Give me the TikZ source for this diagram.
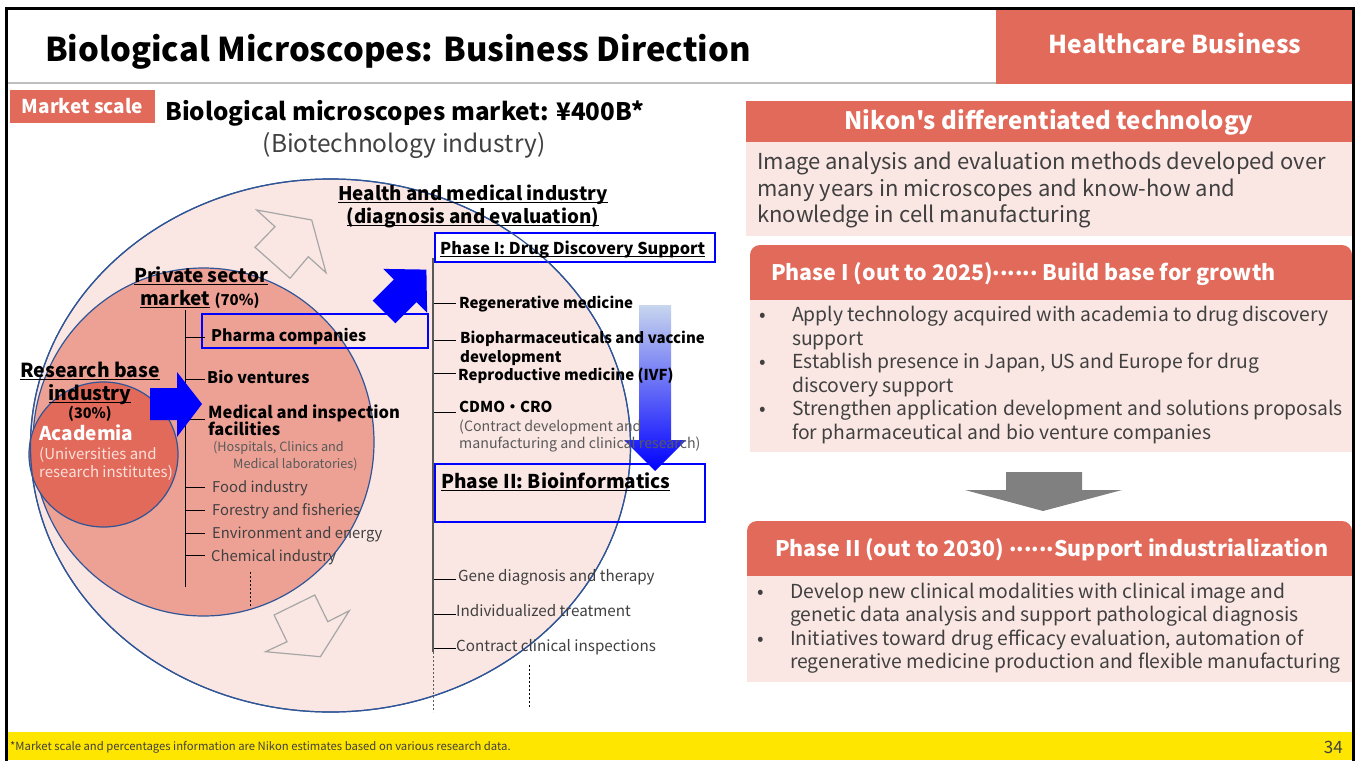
\documentclass[tikz,border=0pt]{standalone}
\usepackage{fontspec}
\setmainfont{Noto Sans CJK JP}[Ligatures=TeXOff]
\usetikzlibrary{shapes.geometric}

\definecolor{salmon}{RGB}{225,106,91}
\definecolor{blush}{RGB}{250,231,227}
\definecolor{rosy}{RGB}{237,161,149}
\definecolor{ringblue}{RGB}{47,85,151}
\definecolor{pureblue}{RGB}{0,0,255}
\definecolor{paleblue}{RGB}{200,214,238}
\definecolor{midblue}{RGB}{140,160,240}
\definecolor{inkgray}{RGB}{64,64,64}
\definecolor{softgray}{RGB}{89,89,89}
\definecolor{footyellow}{RGB}{255,230,0}
\definecolor{rulegray}{RGB}{191,191,191}
\definecolor{arrowgray}{RGB}{128,128,128}
\definecolor{outlinegray}{RGB}{166,166,166}
\definecolor{palewhite}{RGB}{252,224,218}

\newcommand\fsz[2]{\fontsize{#1}{#2}\selectfont}
% underline sitting just under the baseline
\newcommand\ulx[1]{{\setbox0\hbox{#1}\rlap{\rule[-0.16em]{\wd0}{0.055em}}\box0}}
% six mid-height dots
\newcommand\dotrun{\raisebox{0.24em}{......}}

\tikzset{
  lab/.style={anchor=base west, inner sep=0pt},
  clab/.style={anchor=base, inner sep=0pt},
  bar/.style={draw=black, line width=1pt},
  midbar/.style={draw=softgray, line width=1.2pt},
  itemb/.style={lab, font=\fsz{15}{18}\bfseries, text=black},
  itemr/.style={lab, font=\fsz{14.8}{18}, text=inkgray},
  note/.style={lab, font=\fsz{14.2}{16}, text=softgray},
  bodytext/.style={lab, font=\fsz{22}{26}, text=inkgray},
  bullettext/.style={lab, font=\fsz{19.3}{22}, text=inkgray},
  headtext/.style={lab, font=\fsz{21.4}{25}\bfseries, text=white},
  ring/.style={ellipse, draw=ringblue, line width=1.2pt, inner sep=0pt},
  bluebox/.style={draw=pureblue, line width=2pt},
  hollow/.style={draw=outlinegray, line width=1.2pt, line join=miter},
}

\begin{document}
\begin{tikzpicture}[x=1pt,y=-1pt]
\useasboundingbox (0,0) rectangle (1359,760);
\fill[white] (0,0) rectangle (1359,760);

% ---------- header ----------
\node[lab, font=\fsz{32.8}{38}\bfseries] (title) at (45,61.5) {Biological Microscopes: Business Direction};
\draw[rulegray, line width=2pt] (8,83) -- (996,83);
\fill[salmon] (996,9) rectangle (1352,84);
\node[clab, font=\fsz{24.6}{28}\bfseries, text=white] (unit) at (1175,53.5) {Healthcare Business};

% ---------- market scale ----------
\fill[salmon] (10,90) rectangle (155,123);
\node[clab, font=\fsz{19}{22}\bfseries, text=white] (mscale) at (82.5,113) {Market scale};
\node[lab, font=\fsz{24.2}{27}\bfseries] (market) at (165,120.5) {Biological microscopes market: ¥400B*};
\node[clab, font=\fsz{24.5}{28}, text=inkgray] (biotech) at (404,152) {(Biotechnology industry)};

% ---------- market circles ----------
\node[ring, fill=blush, minimum width=600pt, minimum height=533pt] (outer) at (330.5,445.5) {};
\node[ring, fill=rosy, minimum width=341pt, minimum height=348pt] (inner) at (203.5,442) {};
\node[ring, fill=salmon, minimum width=149pt, minimum height=145pt] (acad) at (103.5,454.5) {};

% hollow growth arrows
\draw[hollow] (256.7,210) -- (311.7,220) -- (326,272.7) -- (308.3,256.7) -- (290,278.3) -- (255,247.3) -- (275,226.7) -- cycle;
\draw[hollow] (314.8,595) -- (327.8,621.7) -- (349.3,610.7) -- (320.4,656.7) -- (265.6,651.7) -- (287,641.7) -- (274.1,615) -- cycle;

% phase boxes
\filldraw[bluebox, fill=white] (435,233) rectangle (715,262);
\node[ring, minimum width=600pt, minimum height=533pt] (outerline) at (330.5,445.5) {};
\draw[bluebox] (435,464) rectangle (705,522);
\draw[bluebox] (202,314) rectangle (428,348);

% shift from phase I to phase II (under the labels)
\shade[top color=paleblue, middle color=midblue, bottom color=pureblue] (639,305) -- (671,305) -- (671,440) -- (686,440) -- (655,471) -- (624,440) -- (639,440) -- cycle;

% ---------- health and medical column ----------
\node[clab, font=\fsz{18.8}{22}\bfseries] (health1) at (473,200) {\ulx{Health and medical industry}};
\node[clab, font=\fsz{18.8}{22}\bfseries] (health2) at (473,223) {\ulx{(diagnosis and evaluation)}};
\node[lab, font=\fsz{16.3}{20}\bfseries] (phase1) at (440,254) {\ulx{Phase I: Drug Discovery Support}};

\coordinate (mtop) at (433,258);
\coordinate (mend) at (433,652);
\coordinate (mdot) at (433,712);
\draw[midbar] (mtop) -- (mend);
\draw[midbar, line width=1pt, dash pattern=on 2pt off 2pt] (mend) -- (mdot);
\foreach \yy in {303,340,373,412,579,614,648} \draw[bar] (434,\yy) -- (456,\yy);

\node[itemb] (regen) at (459,308.5) {Regenerative medicine};
\node[itemb] (biopharm) at (460,343.5) {Biopharmaceuticals and vaccine};
\node[itemb] (biopharmb) at (460,362.5) {development};
\node[itemb] (repro) at (458,380.5) {Reproductive medicine (IVF)};
\node[itemb] (cdmo) at (459,412.5) {CDMO・CRO};
\node[note] (cdmoa) at (459,431) {(Contract development and};
\node[note] (cdmob) at (459,448) {manufacturing and clinical research)};

\node[lab, font=\fsz{19}{23}\bfseries] (phase2) at (441,488) {\ulx{Phase II: Bioinformatics}};
\node[itemr, font=\fsz{15.2}{18}] (gene) at (458,581) {Gene diagnosis and therapy};
\node[itemr, font=\fsz{15.2}{18}] (indiv) at (456,616) {Individualized treatment};
\node[itemr, font=\fsz{15.2}{18}] (clin) at (456,651) {Contract clinical inspections};
\coordinate (rdtop) at (529,665);
\coordinate (rdbot) at (529,707);
\draw[black, line width=1pt, dash pattern=on 2pt off 2pt] (rdtop) -- (rdbot);

% ---------- private sector column ----------
\node[clab, font=\fsz{19}{22}\bfseries] (priv1) at (201,282) {\ulx{Private sector}};
\node[lab, font=\fsz{19}{22}\bfseries] (priv2) at (140,305) {\ulx{market} {\fsz{15}{18}(70\%)}};
\coordinate (ltop) at (185,310);
\coordinate (lbot) at (185,587);
\draw[bar] (ltop) -- (lbot);
\foreach \yy in {337,379,419,487,510,533,555} \draw[bar] (185,\yy) -- (205,\yy);
\node[lab, font=\fsz{16}{19}\bfseries] (pharma) at (211,341) {Pharma companies};
\node[lab, font=\fsz{16}{19}\bfseries] (biov) at (207,383) {Bio ventures};
\node[lab, font=\fsz{16.5}{19}\bfseries] (medi) at (208,418) {Medical and inspection};
\node[lab, font=\fsz{16.5}{19}\bfseries] (medib) at (208,435) {facilities};
\node[note, font=\fsz{12.7}{15}] (hosp) at (213,451.5) {(Hospitals, Clinics and};
\node[note, font=\fsz{12.7}{15}] (hospb) at (233,468.5) {Medical laboratories)};
\node[itemr] (food) at (212,492) {Food industry};
\node[itemr] (forest) at (212,515) {Forestry and fisheries};
\node[itemr] (envi) at (212,538) {Environment and energy};
\node[itemr] (chem) at (211,561) {Chemical industry};
\coordinate (ldtop) at (250,572);
\coordinate (ldbot) at (250,607);
\draw[black, line width=1pt, dash pattern=on 2pt off 2pt] (ldtop) -- (ldbot);

% ---------- research base ----------
\node[clab, font=\fsz{19.3}{22}\bfseries] (res1) at (90,377) {\ulx{Research base}};
\node[clab, font=\fsz{19.3}{22}\bfseries] (res2) at (90,400) {\ulx{industry}};
\node[clab, font=\fsz{14.5}{17}\bfseries] (res3) at (90,418.5) {(30\%)};
\node[lab, font=\fsz{19}{22}\bfseries, text=white] (acadname) at (39,440) {Academia};
\node[lab, font=\fsz{15}{17}, text=palewhite] (acada) at (39,459) {(Universities and};
\node[lab, font=\fsz{15}{17}, text=palewhite] (acadb) at (39,477) {research institutes)};

% ---------- blue arrows ----------
\fill[pureblue] (150,388) -- (177,388) -- (177,372) -- (202,404) -- (177,437) -- (177,420) -- (150,420) -- cycle;
\fill[pureblue] (372.7,300.7) -- (393.9,279.5) -- (383.3,268.9) -- (426.4,269.6) -- (427.1,312.7) -- (416.5,302.1) -- (395.3,323.3) -- cycle;

% ---------- differentiated technology ----------
\fill[salmon] (746,101) rectangle (1352,142);
\node[clab, font=\fsz{24}{27}\bfseries, text=white] (techhead) at (1049,129) {Nikon's differentiated technology};
\fill[blush] (746,142) rectangle (1352,236);
\node[bodytext] (tech1) at (757,169.5) {Image analysis and evaluation methods developed over};
\node[bodytext] (tech2) at (757,196) {many years in microscopes and know-how and};
\node[bodytext] (tech3) at (757,222.5) {knowledge in cell manufacturing};

% ---------- phase I panel ----------
\fill[salmon, rounded corners=10pt] (750,245) rectangle (1352,312);
\fill[blush] (750,300) rectangle (1352,452);
\node[headtext] (p1head) at (771,280.5) {Phase I (out to 2025)\dotrun\ Build base for growth};
\node[bullettext] (p1d1) at (759,321.7) {•};
\node[bullettext] (p1a) at (792,321.7) {Apply technology acquired with academia to drug discovery};
\node[bullettext] (p1b) at (792,345.7) {support};
\node[bullettext] (p1d2) at (759,368.7) {•};
\node[bullettext] (p1c) at (792,368.7) {Establish presence in Japan, US and Europe for drug};
\node[bullettext] (p1d) at (792,392.7) {discovery support};
\node[bullettext] (p1d3) at (759,415.7) {•};
\node[bullettext] (p1e) at (792,415.7) {Strengthen application development and solutions proposals};
\node[bullettext] (p1f) at (792,439.7) {for pharmaceutical and bio venture companies};

\fill[arrowgray] (1006,472) -- (1082,472) -- (1082,490) -- (1122,490) -- (1043,511) -- (965,490) -- (1006,490) -- cycle;

% ---------- phase II panel ----------
\fill[salmon, rounded corners=10pt] (747,521) rectangle (1352,588);
\fill[blush] (747,576) rectangle (1352,682);
\node[headtext] (p2head) at (775,556.5) {Phase II (out to 2030) \dotrun Support industrialization};
\node[bullettext] (p2d1) at (757,598.7) {•};
\node[bullettext] (p2a) at (790,598.7) {Develop new clinical modalities with clinical image and};
\node[bullettext] (p2b) at (790,621.7) {genetic data analysis and support pathological diagnosis};
\node[bullettext] (p2d2) at (757,645.7) {•};
\node[bullettext] (p2c) at (790,645.7) {Initiatives toward drug efficacy evaluation, automation of};
\node[bullettext] (p2e) at (790,668.7) {regenerative medicine production and flexible manufacturing};

% ---------- footer ----------
\fill[footyellow] (8,732) rectangle (1352,760);
\node[lab, font=\fsz{11.3}{13}, text=inkgray] (foot) at (10,750) {*Market scale and percentages information are Nikon estimates based on various research data.};
\node[anchor=base east, inner sep=0pt, font=\fsz{17}{20}, text=inkgray] (page) at (1343,753.5) {34};

% slide frame
\draw[black, line width=2.6pt] (6.3,8.3) rectangle (1353.7,780);
\end{tikzpicture}
\end{document}
